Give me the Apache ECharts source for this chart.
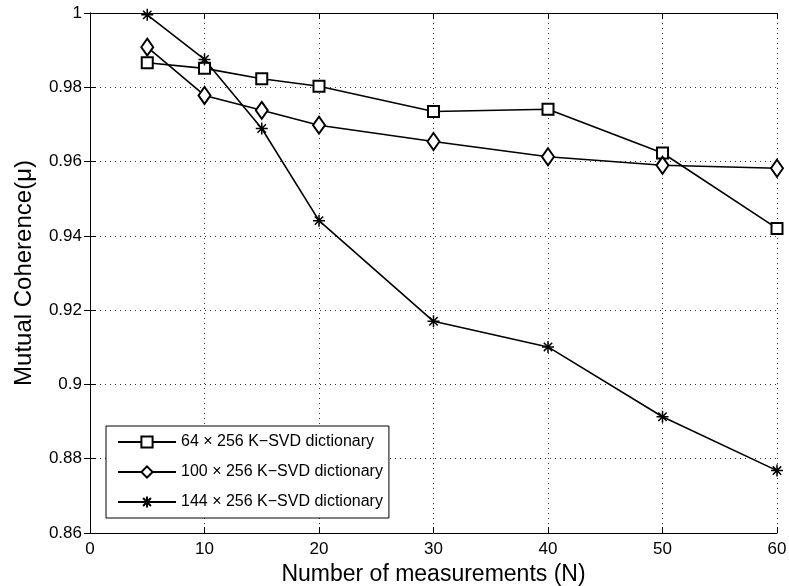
<!DOCTYPE html>
<html>
<head>
<meta charset="utf-8">
<script src="https://cdn.jsdelivr.net/npm/echarts@6/dist/echarts.min.js"></script>
<style>html,body{margin:0;padding:0;background:#fff;}#c{width:789px;height:586px;}</style>
</head>
<body>
<div id="c"></div>
<script>
const measurements = [5, 10, 15, 20, 30, 40, 50, 60];
const seriesNames = ['64 \u00d7 256 K\u2212SVD dictionary', '100 \u00d7 256 K\u2212SVD dictionary', '144 \u00d7 256 K\u2212SVD dictionary'];
const dict64 = [0.9866, 0.9851, 0.9823, 0.9803, 0.9735, 0.9741, 0.9623, 0.9420];
const dict100 = [0.9908, 0.9778, 0.9738, 0.9698, 0.9654, 0.9613, 0.9590, 0.9582];
const dict144 = [0.9995, 0.9875, 0.9689, 0.9441, 0.9170, 0.9101, 0.8913, 0.8768];
const xTicks = {min: 0, max: 60, interval: 10};
const yTicks = {min: 0.86, max: 1, interval: 0.02};

const font = 'Liberation Sans, Arial, Helvetica, sans-serif';
const starPath = 'path://M0,-6L0,6M-6,0L6,0M-4.2,-4.2L4.2,4.2M-4.2,4.2L4.2,-4.2';

function mk(name, vals, symbol, size) {
  return {
    name: name, type: 'line', xAxisIndex: 0, yAxisIndex: 0,
    data: measurements.map((x, i) => [x, vals[i]]),
    symbol: symbol, symbolSize: size, showAllSymbol: true,
    lineStyle: {color: '#000', width: 1.6},
    itemStyle: {color: '#000', borderColor: '#000', borderWidth: 1.5},
    animation: false, z: 3
  };
}

const chart = echarts.init(document.getElementById('c'), null, {renderer: 'canvas'});
const yFmt = v => parseFloat(Number(v).toFixed(2)).toString();
chart.setOption({
  backgroundColor: '#fff',
  textStyle: {fontFamily: font},
  grid: {left: 90, right: 12, top: 13, bottom: 53, show: false, containLabel: false, outerBoundsMode: 'none'},
  legend: {
    orient: 'vertical', left: 106, top: 426,
    padding: [8, 6, 8, 11],
    itemWidth: 58, itemHeight: 14, itemGap: 14,
    borderColor: '#000', borderWidth: 1, backgroundColor: '#fff',
    textStyle: {fontSize: 16, color: '#000', fontFamily: font},
    data: seriesNames
  },
  xAxis: [{
    type: 'value', min: xTicks.min, max: xTicks.max, interval: xTicks.interval,
    name: 'Number of measurements (N)', nameLocation: 'middle', nameGap: 26,
    nameTextStyle: {fontSize: 23, color: '#000', fontFamily: font},
    axisLine: {lineStyle: {color: '#000', width: 1}},
    axisTick: {inside: true, length: 6, lineStyle: {color: '#000'}},
    axisLabel: {fontSize: 17, color: '#000', margin: 8, fontFamily: font},
    splitLine: {show: true, lineStyle: {color: '#333', type: [1, 4], width: 1}}
  }, {
    type: 'value', position: 'top', min: xTicks.min, max: xTicks.max, interval: xTicks.interval,
    axisLine: {show: true, lineStyle: {color: '#000', width: 1}},
    axisTick: {inside: true, length: 6, lineStyle: {color: '#000'}},
    axisLabel: {show: false}, splitLine: {show: false}
  }],
  yAxis: [{
    type: 'value', min: yTicks.min, max: yTicks.max, interval: yTicks.interval,
    name: 'Mutual Coherence(\u03bc)', nameLocation: 'middle', nameGap: 54, nameRotate: 90,
    nameTextStyle: {fontSize: 24, color: '#000', fontFamily: font},
    axisLine: {show: true, lineStyle: {color: '#000', width: 1}},
    axisTick: {show: true, inside: true, length: 6, lineStyle: {color: '#000'}},
    axisLabel: {fontSize: 17, color: '#000', margin: 8, formatter: yFmt, fontFamily: font},
    splitLine: {show: true, lineStyle: {color: '#333', type: [1, 4], width: 1}}
  }, {
    type: 'value', position: 'right', min: yTicks.min, max: yTicks.max, interval: yTicks.interval,
    axisLine: {show: true, lineStyle: {color: '#000', width: 1}},
    axisTick: {show: true, inside: true, length: 6, lineStyle: {color: '#000'}},
    axisLabel: {show: false}, splitLine: {show: false}
  }],
  series: [
    mk(seriesNames[0], dict64, 'emptyRect', 11),
    mk(seriesNames[1], dict100, 'emptyDiamond', [12, 17]),
    mk(seriesNames[2], dict144, starPath, 12)
  ]
});
</script>
</body>
</html>
